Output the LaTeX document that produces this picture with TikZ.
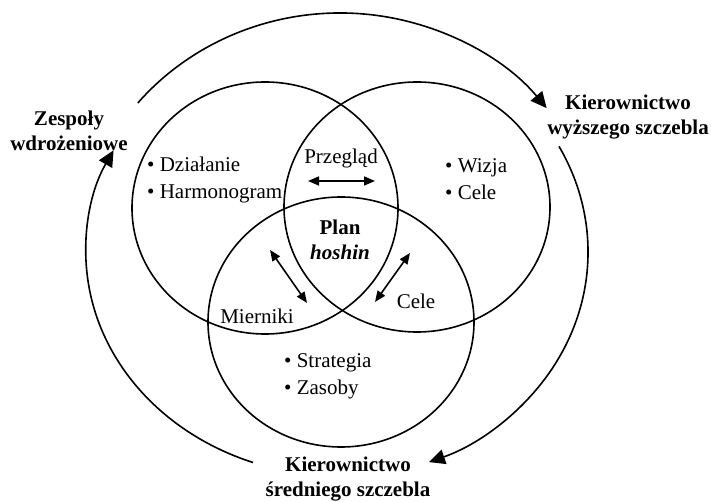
\documentclass[tikz,border=0pt]{standalone}
\usepackage{fontspec}
\setmainfont{Liberation Serif}
\usetikzlibrary{arrows.meta}
\begin{document}
\begin{tikzpicture}[x=1pt,y=1pt,
  every node/.style={inner sep=0pt,font=\fontsize{21}{27}\selectfont},
  lab/.style={font=\fontsize{21}{25}\selectfont\bfseries,align=center},
  list/.style={align=left,anchor=west},
  ring/.style={line width=1.6pt},
  bigarrow/.style={line width=1.6pt,-{Triangle[length=16pt,width=15pt]}},
  twoway/.style={line width=1.6pt,{Triangle[length=11pt,width=9pt]}-{Triangle[length=11pt,width=9pt]}}]
  \useasboundingbox (0,0) rectangle (711,502);
  % the three circles
  \draw[ring] (265,294) ellipse [x radius=133pt, y radius=126pt];
  \draw[ring] (417,295) ellipse [x radius=133pt, y radius=125pt];
  \draw[ring] (341,180) ellipse [x radius=133pt, y radius=125pt];
  % labels round the outside
  \node[lab] (zespoly) at (69,371) {Zespoły\\wdrożeniowe};
  \node[lab] (wyzsze) at (628,385) {Kierownictwo\\wyższego szczebla};
  \node[lab] (srednie) at (348,23) {Kierownictwo\\średniego szczebla};
  % the cycle
  \coordinate (topstart) at (137.8,399);
  \coordinate (rightstart) at (559,355.6);
  \coordinate (leftstart) at (253,39.5);
  \draw[bigarrow] (topstart) arc [start angle=140, end angle=38.5, x radius=264pt, y radius=252pt];
  \draw[bigarrow] (rightstart) arc [start angle=28, end angle=-69, x radius=248pt, y radius=225pt];
  \draw[bigarrow] (leftstart) arc [start angle=250, end angle=153, x radius=254pt, y radius=224pt];
  % contents of the circles
  \node[list] (dzialanie) at (147,322) {\textbullet\ Działanie\\\textbullet\ Harmonogram};
  \node[list] (wizja) at (445,323) {\textbullet\ Wizja\\\textbullet\ Cele};
  \node[list] (strategia) at (284,126) {\textbullet\ Strategia\\\textbullet\ Zasoby};
  \node[anchor=base] (przeglad) at (341,338) {Przegląd};
  \node[lab] (plan) at (340,262) {Plan\\\textit{hoshin}};
  \node[anchor=base] (mierniki) at (257,178) {Mierniki};
  \node[anchor=base] (cele) at (416,193) {Cele};
  % two-way arrows
  \coordinate (p1) at (308,321);
  \coordinate (p2) at (375,321);
  \coordinate (m1) at (270,252);
  \coordinate (m2) at (307,199);
  \coordinate (c1) at (410,249);
  \coordinate (c2) at (375,200);
  \draw[twoway] (p1) -- (p2);
  \draw[twoway] (m1) -- (m2);
  \draw[twoway] (c1) -- (c2);
\end{tikzpicture}
\end{document}
